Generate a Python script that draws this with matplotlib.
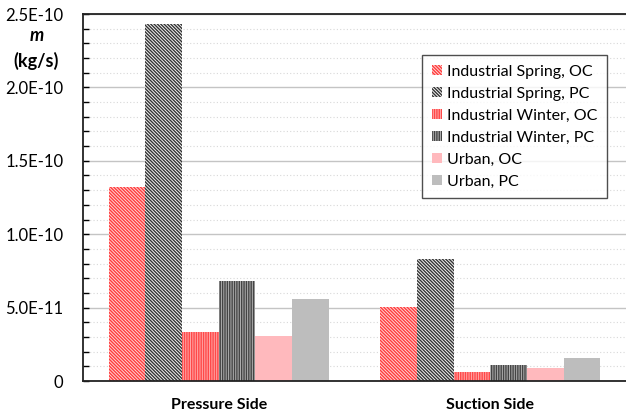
import numpy as np
import matplotlib
matplotlib.use('Agg')
import matplotlib.pyplot as plt
from matplotlib.ticker import MultipleLocator, FixedLocator

plt.rcParams['font.family'] = ['Lato', 'DejaVu Sans']
plt.rcParams['hatch.linewidth'] = 1.0

# mass flow rate, kg/s
sides = ['Pressure Side', 'Suction Side']
series = ['Industrial Spring, OC', 'Industrial Spring, PC',
          'Industrial Winter, OC', 'Industrial Winter, PC',
          'Urban, OC', 'Urban, PC']
spring_oc = [1.32e-10, 5.06e-11]
spring_pc = [2.43e-10, 8.31e-11]
winter_oc = [3.36e-11, 6.3e-12]
winter_pc = [6.81e-11, 1.11e-11]
urban_oc = [3.09e-11, 8.9e-12]
urban_pc = [5.59e-11, 1.57e-11]
yticks = [0, 5e-11, 1e-10, 1.5e-10, 2e-10, 2.5e-10]
yticklabels = ['0', '5.0E-11', '1.0E-10', '1.5E-10', '2.0E-10', '2.5E-10']

values = [spring_oc, spring_pc, winter_oc, winter_pc, urban_oc, urban_pc]
# (face, hatch colour, hatch)
styles = [('#ffd6d6', '#ff3b3b', '\\' * 10),
          ('#f4f4f4', '#333333', '\\' * 10),
          ('#ffa8a8', '#ff4848', '|' * 7),
          ('#b0b0b0', '#444444', '|' * 7),
          ('#ffb9bd', None, ''),
          ('#bdbdbd', None, '')]

fig = plt.figure(figsize=(6.26, 4.17), dpi=100)
ax = fig.add_axes([0.1326, 0.0863, 0.8674, 0.8801])

x = np.arange(len(sides))
w = 0.135
for i, (vals, (fc, hc, hatch)) in enumerate(zip(values, styles)):
    pos = x + (i - 2.5) * w
    if hatch:
        ax.bar(pos, vals, w, color=fc, edgecolor=hc, hatch=hatch,
               linewidth=0, label=series[i])
    else:
        ax.bar(pos, vals, w, color=fc, linewidth=0, label=series[i])

ax.set_xlim(-0.5, 1.5)
ax.set_ylim(0, 2.5e-10)
ax.yaxis.set_major_locator(FixedLocator(yticks))
ax.set_yticklabels(yticklabels)
ax.yaxis.set_minor_locator(MultipleLocator(1e-11))
ax.set_xticks(x)
ax.set_xticklabels(sides, fontweight='bold', fontsize=11.5)
ax.tick_params(axis='x', length=0, pad=12)
ax.tick_params(axis='y', which='major', direction='in', length=4, labelsize=12,
               pad=14, width=1)
ax.tick_params(axis='y', which='minor', direction='in', length=4, width=1)
ax.grid(axis='y', which='major', color='#c4c4c4', linewidth=1)
ax.grid(axis='y', which='minor', color='#d8d8d8', linewidth=0.8, linestyle=(0, (1, 2)))
ax.set_axisbelow(True)

for s in ['left', 'bottom', 'top']:
    ax.spines[s].set_linewidth(1.3)
    ax.spines[s].set_color('#222222')
ax.spines['right'].set_visible(False)

fig.text(0.058, 0.914, 'm', fontsize=13, fontweight='bold', style='italic',
         ha='center', va='center')
fig.text(0.058, 0.854, '(kg/s)', fontsize=13, fontweight='bold',
         ha='center', va='center')

leg = ax.legend(loc='upper right', bbox_to_anchor=(0.98, 0.91), fontsize=11.5,
                frameon=True, fancybox=False, edgecolor='#222222',
                handlelength=0.6, handleheight=0.6, handletextpad=0.35,
                labelspacing=0.5, borderpad=0.6)
leg.get_frame().set_linewidth(1.0)

fig.savefig('out.png', dpi=100)
